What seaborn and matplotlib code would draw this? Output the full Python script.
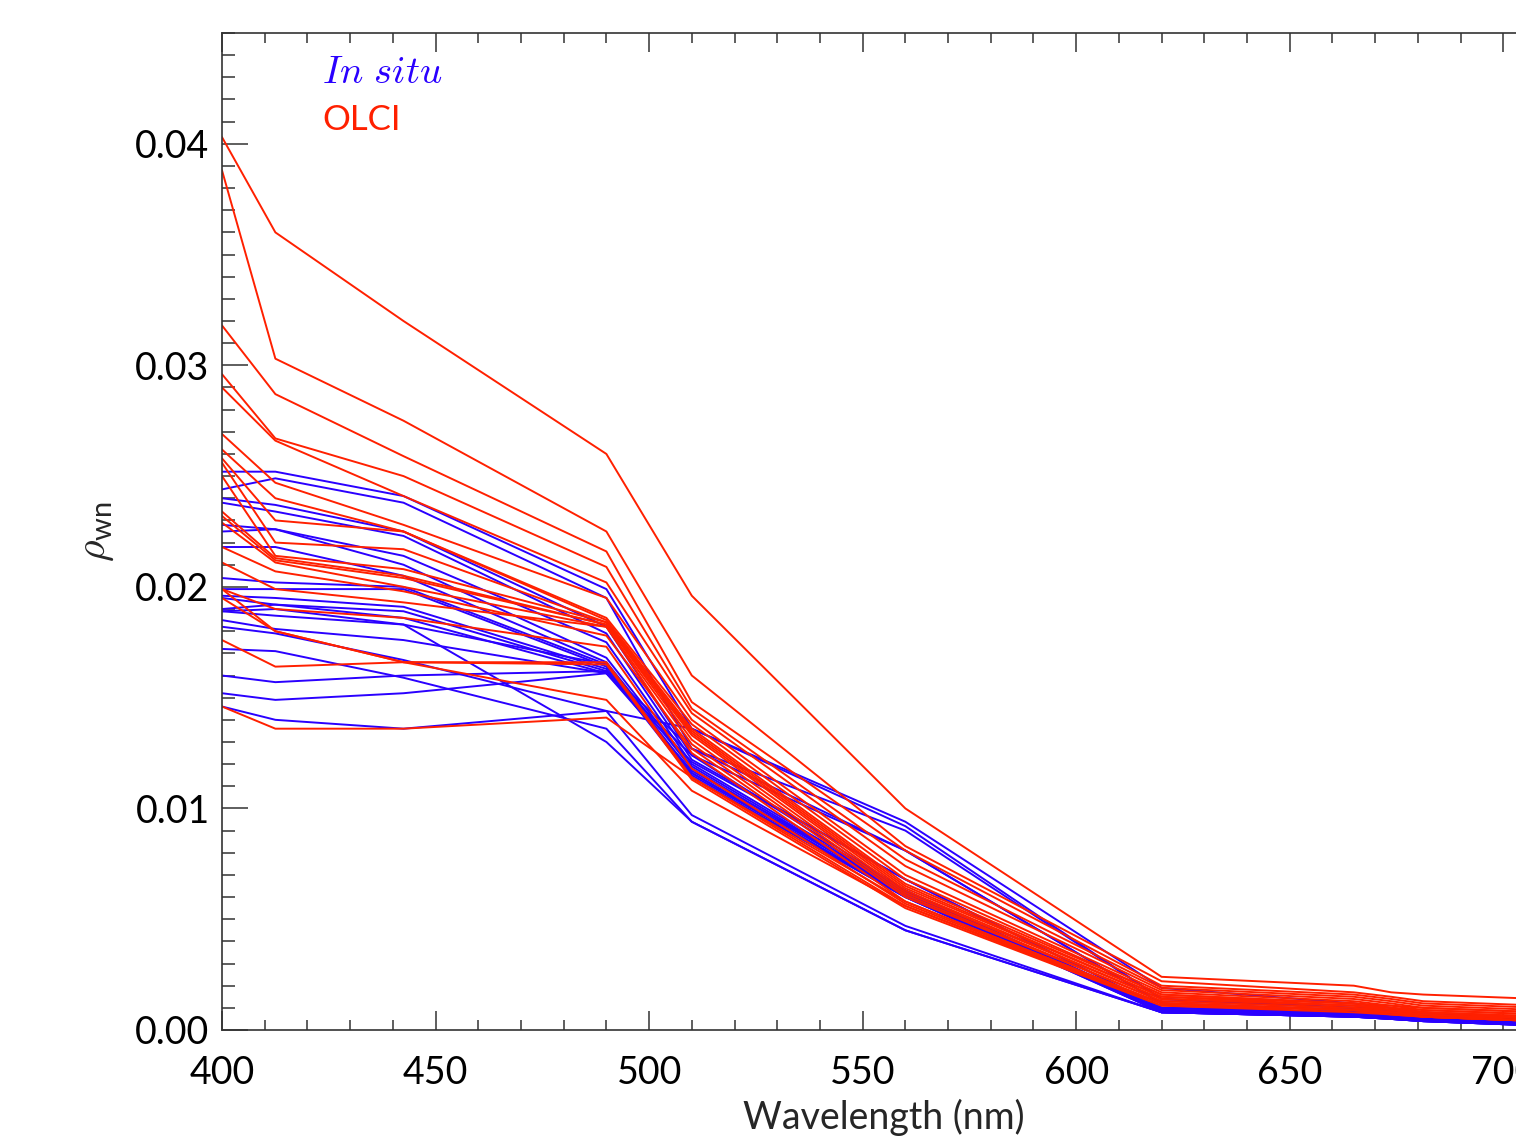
import numpy as np
import pandas as pd
import matplotlib.pyplot as plt
from matplotlib.ticker import MultipleLocator, FormatStrFormatter
import seaborn as sns

# OLCI band centres (nm)
wavelengths = [400, 412.5, 442.5, 490, 510, 560, 620, 665, 673.75, 681.25, 708.75]

# in situ spectra (rho_wn), one list per station
insitu = [
    [.0252, .0252, .0241, .0199, .0136, .0094, .0019, .0012, .0010, .0008, .0004],
    [.0244, .0249, .0238, .0195, .0127, .0090, .0014, .0010, .0009, .0007, .0004],
    [.0240, .0237, .0225, .0182, .0124, .0081, .0012, .0009, .0008, .0006, .0003],
    [.0238, .0234, .0223, .0179, .0122, .0068, .0010, .0008, .0007, .0006, .0003],
    [.0228, .0226, .0214, .0175, .0120, .0063, .0010, .0008, .0007, .0005, .0003],
    [.0225, .0226, .0210, .0168, .0119, .0062, .0009, .0007, .0006, .0005, .0003],
    [.0218, .0218, .0205, .0166, .0118, .0061, .0009, .0007, .0006, .0005, .0002],
    [.0204, .0202, .0200, .0165, .0116, .0060, .0009, .0007, .0006, .0005, .0002],
    [.0199, .0199, .0199, .0164, .0115, .0061, .0008, .0006, .0006, .0005, .0002],
    [.0196, .0195, .0191, .0163, .0114, .0060, .0008, .0006, .0005, .0004, .0002],
    [.0195, .0192, .0189, .0162, .0116, .0062, .0009, .0007, .0006, .0005, .0003],
    [.0190, .0192, .0186, .0161, .0117, .0063, .0009, .0007, .0006, .0005, .0003],
    [.0189, .0187, .0183, .0165, .0114, .0060, .0008, .0006, .0005, .0004, .0002],
    [.0185, .0181, .0176, .0161, .0121, .0068, .0010, .0008, .0007, .0006, .0003],
    [.0182, .0179, .0167, .0144, .0097, .0047, .0008, .0006, .0005, .0004, .0002],
    [.0172, .0171, .0159, .0136, .0094, .0045, .0008, .0006, .0005, .0004, .0002],
    [.0160, .0157, .0160, .0162, .0127, .0081, .0012, .0009, .0008, .0006, .0003],
    [.0152, .0149, .0152, .0161, .0124, .0063, .0010, .0008, .0007, .0005, .0003],
    [.0146, .0140, .0136, .0144, .0136, .0092, .0014, .0010, .0009, .0007, .0004],
    [.0189, .0190, .0183, .0130, .0094, .0045, .0008, .0006, .0005, .0004, .0002],
]

# OLCI matchups
olci = [
    [.0403, .0360, .0320, .0260, .0196, .0100, .0024, .0020, .0017, .0016, .0014],
    [.0388, .0303, .0275, .0225, .0160, .0083, .0022, .0017, .0015, .0013, .0011],
    [.0318, .0287, .0259, .0216, .0148, .0081, .0020, .0016, .0014, .0012, .0010],
    [.0296, .0267, .0250, .0209, .0145, .0077, .0019, .0015, .0013, .0011, .0009],
    [.0290, .0266, .0241, .0202, .0143, .0074, .0018, .0014, .0012, .0010, .0008],
    [.0269, .0247, .0228, .0195, .0140, .0070, .0017, .0013, .0011, .0010, .0008],
    [.0262, .0240, .0225, .0186, .0138, .0068, .0016, .0012, .0011, .0009, .0007],
    [.0258, .0230, .0225, .0185, .0136, .0066, .0016, .0012, .0010, .0009, .0007],
    [.0256, .0220, .0217, .0184, .0135, .0065, .0015, .0012, .0010, .0008, .0006],
    [.0250, .0214, .0208, .0184, .0134, .0064, .0015, .0011, .0010, .0008, .0006],
    [.0234, .0213, .0205, .0183, .0133, .0063, .0014, .0011, .0009, .0008, .0006],
    [.0232, .0212, .0204, .0183, .0131, .0062, .0014, .0011, .0009, .0008, .0005],
    [.0229, .0211, .0200, .0182, .0129, .0061, .0013, .0010, .0009, .0007, .0005],
    [.0218, .0207, .0198, .0178, .0127, .0060, .0013, .0010, .0008, .0007, .0005],
    [.0211, .0199, .0193, .0182, .0125, .0058, .0012, .0009, .0008, .0007, .0004],
    [.0199, .0190, .0186, .0173, .0118, .0057, .0012, .0009, .0008, .0006, .0004],
    [.0195, .0180, .0166, .0166, .0114, .0056, .0011, .0009, .0007, .0006, .0004],
    [.0176, .0164, .0166, .0165, .0113, .0055, .0011, .0008, .0007, .0006, .0004],
    [.0199, .0180, .0166, .0149, .0108, .0056, .0012, .0009, .0008, .0006, .0004],
    [.0146, .0136, .0136, .0141, .0114, .0058, .0012, .0009, .0008, .0006, .0004],
]

blue = '#2a00ff'
red = '#ff2000'

rows = []
for i, spec in enumerate(insitu):
    for w, v in zip(wavelengths, spec):
        rows.append(('In situ', 'i%d' % i, w, v))
for i, spec in enumerate(olci):
    for w, v in zip(wavelengths, spec):
        rows.append(('OLCI', 'o%d' % i, w, v))
df = pd.DataFrame(rows, columns=['source', 'unit', 'wl', 'rho'])

sns.set_style('ticks')
plt.rcParams['font.family'] = ['Lato', 'DejaVu Sans']
plt.rcParams['mathtext.fontset'] = 'cm'

fig = plt.figure(figsize=(15.16, 11.44), dpi=100)
# axes run past the right edge of the figure, as in the original
ax = fig.add_axes([222 / 1516, 114 / 1144, 1324 / 1516, 997 / 1144])

sns.lineplot(data=df, x='wl', y='rho', hue='source', units='unit', estimator=None,
             hue_order=['In situ', 'OLCI'], palette={'In situ': blue, 'OLCI': red},
             lw=1.4, legend=False, ax=ax)

ax.set_xlim(400, 710)
ax.set_ylim(0, 0.045)
ax.xaxis.set_major_locator(MultipleLocator(50))
ax.xaxis.set_minor_locator(MultipleLocator(10))
ax.yaxis.set_major_locator(MultipleLocator(0.01))
ax.yaxis.set_minor_locator(MultipleLocator(0.001))
ax.yaxis.set_major_formatter(FormatStrFormatter('%.2f'))

for s in ['left', 'bottom', 'top']:
    ax.spines[s].set_color('#333333')
    ax.spines[s].set_linewidth(1.2)
ax.spines['right'].set_visible(False)

ax.tick_params(axis='both', which='both', direction='in', colors='#333333', width=1.1,
               labelcolor='black', labelsize=27)
ax.tick_params(axis='x', which='both', top=True, bottom=True, pad=18)
ax.tick_params(axis='x', which='major', length=14)
ax.tick_params(axis='x', which='minor', length=7)
ax.tick_params(axis='y', which='both', left=True, right=False, pad=9)
ax.tick_params(axis='y', which='major', length=19)
ax.tick_params(axis='y', which='minor', length=9.5)

ax.set_xlabel('Wavelength (nm)', fontsize=27, labelpad=6)
ax.set_ylabel(r'$\rho_{\mathregular{wn}}$', fontsize=30, labelpad=14)

ax.text((322 - 222) / 1324, 1 - 39 / 997, r'$In\ situ$', transform=ax.transAxes,
        color=blue, fontsize=28, va='center', ha='left')
ax.text((322 - 222) / 1324, 1 - 87 / 997, 'OLCI', transform=ax.transAxes,
        color=red, fontsize=25, va='center', ha='left')

# IDL-style: lowest y label sits above its tick
fig.canvas.draw()
ax.get_yticklabels()[0].set_verticalalignment('baseline')

fig.savefig('out.png', dpi=100)
